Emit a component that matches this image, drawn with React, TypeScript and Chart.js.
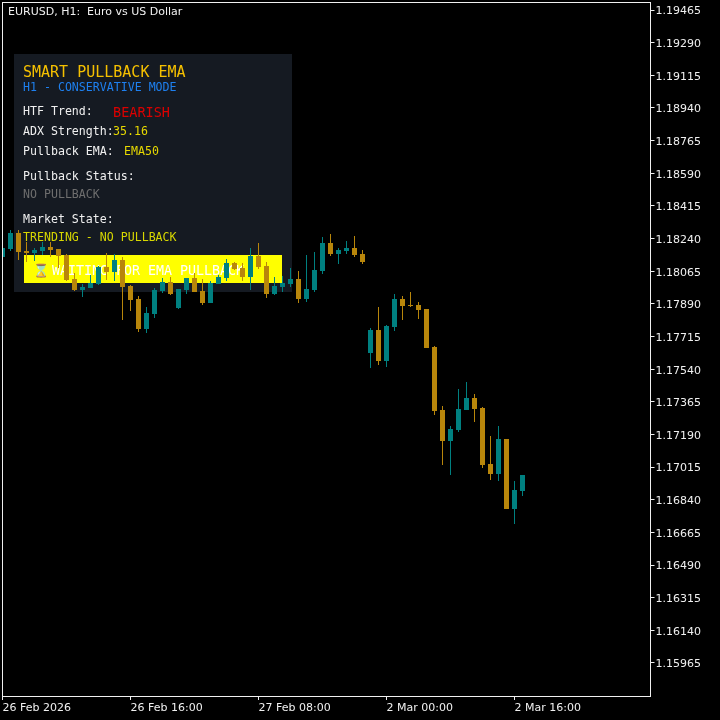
import React, { useEffect, useRef } from "react";
import { Chart, registerables } from "chart.js";

Chart.register(...registerables);

const opens = [1.18141,1.18184,1.18270,1.18173,1.18162,1.18173,1.18195,1.18184,1.18152,1.18023,1.17964,1.17975,1.17996,1.18087,1.18061,1.18125,1.17986,1.17916,1.17755,1.17836,1.17959,1.18007,1.17868,1.17964,1.18028,1.17959,1.17895,1.17996,1.18028,1.18109,1.18082,1.18034,1.18146,1.18093,1.17943,1.17980,1.17996,1.18023,1.17916,1.17964,1.18066,1.18216,1.18157,1.18173,1.18189,1.18157,1.17626,1.17750,1.17584,1.17766,1.17916,1.17884,1.17884,1.17862,1.17659,1.17321,1.17155,1.17214,1.17321,1.17385,1.17332,1.17032,1.16978,1.17165,1.16790,1.16887];
const closes = [1.18189,1.18270,1.18168,1.18162,1.18178,1.18195,1.18178,1.18146,1.18018,1.17964,1.17980,1.18002,1.18087,1.18061,1.18125,1.17980,1.17911,1.17755,1.17841,1.17964,1.18007,1.17943,1.17969,1.18028,1.17953,1.17895,1.18002,1.18034,1.18109,1.18077,1.18034,1.18146,1.18087,1.17943,1.17986,1.18002,1.18023,1.17916,1.17969,1.18071,1.18216,1.18157,1.18178,1.18189,1.18152,1.18114,1.17750,1.17584,1.17771,1.17916,1.17879,1.17879,1.17857,1.17653,1.17316,1.17155,1.17219,1.17326,1.17385,1.17326,1.17026,1.16978,1.17165,1.16790,1.16892,1.16973];
const highs = [1.18200,1.18286,1.18286,1.18221,1.18189,1.18221,1.18221,1.18184,1.18157,1.18055,1.17996,1.18045,1.18093,1.18162,1.18157,1.18141,1.17991,1.17932,1.17873,1.17975,1.18028,1.18034,1.17969,1.18028,1.18055,1.18023,1.18012,1.18045,1.18130,1.18114,1.18109,1.18189,1.18216,1.18114,1.18034,1.18039,1.18082,1.18066,1.18152,1.18168,1.18248,1.18264,1.18189,1.18227,1.18254,1.18178,1.17761,1.17873,1.17777,1.17943,1.17932,1.17953,1.17900,1.17862,1.17664,1.17342,1.17235,1.17433,1.17471,1.17407,1.17337,1.17182,1.17235,1.17165,1.16940,1.16973];
const lows = [1.18136,1.18173,1.18125,1.18114,1.18120,1.18152,1.18141,1.18082,1.18012,1.17959,1.17927,1.17975,1.17991,1.18018,1.18012,1.17803,1.17852,1.17739,1.17734,1.17814,1.17948,1.17937,1.17862,1.17943,1.17953,1.17884,1.17895,1.17996,1.18012,1.18071,1.18012,1.17964,1.18077,1.17921,1.17937,1.17953,1.17980,1.17895,1.17900,1.17953,1.18050,1.18146,1.18103,1.18157,1.18141,1.18103,1.17546,1.17562,1.17551,1.17744,1.17803,1.17873,1.17809,1.17653,1.17294,1.17026,1.16973,1.17203,1.17321,1.17257,1.17010,1.16946,1.16940,1.16790,1.16710,1.16860];

const priceTicks = [1.19465,1.19290,1.19115,1.18940,1.18765,1.18590,1.18415,1.18240,1.18065,1.17890,1.17715,1.17540,1.17365,1.17190,1.17015,1.16840,1.16665,1.16490,1.16315,1.16140,1.15965];
const timeTickIndex = [0, 16, 32, 48, 64];
const timeTickLabels = ["26 Feb 2026", "26 Feb 16:00", "27 Feb 08:00", "2 Mar 00:00", "2 Mar 16:00"];
const slotCount = 82;

const chartTitle = "EURUSD, H1:  Euro vs US Dollar";
const panelTitle = "SMART PULLBACK EMA";
const panelMode = "H1 - CONSERVATIVE MODE";

const ORANGE = "#b8860b";
const TEAL = "#008080";
const MONO = '"DejaVu Sans Mono"';

const categories = Array.from({ length: slotCount }, (_, i) => {
  const at = timeTickIndex.indexOf(i);
  return at >= 0 ? timeTickLabels[at] : "";
});
const barColors = opens.map((o, i) => (closes[i] >= o ? TEAL : ORANGE));

const chromePlugin = {
  id: "chrome",
  beforeDraw(chart: any) {
    const c = chart.ctx;
    c.save();
    c.fillStyle = "#000000";
    c.fillRect(0, 0, 720, 720);
    c.restore();
    chart.scales.y.getLabelItems().forEach((item: any) => {
      if (!item.shifted) {
        item.options.translation[1] += 1.5;
        item.shifted = true;
      }
    });
  },
  beforeDatasetsDraw(chart: any) {
    const c = chart.ctx;
    c.save();
    c.fillStyle = "#151a22";
    c.fillRect(14, 54, 278, 238);
    c.fillStyle = "#ffff00";
    c.fillRect(24, 255, 258, 28);
    c.textBaseline = "middle";
    c.textAlign = "left";
    const put = (s: string, x: number, y: number, px: number, col: string, fam = MONO) => {
      c.font = `${px}px ${fam}`;
      c.fillStyle = col;
      c.fillText(s, x, y);
    };
    put(panelTitle, 23, 73, 15, "#f5c000");
    put(panelMode, 23, 88, 11.6, "#1e80f0");
    put("HTF Trend:", 23, 112, 11.6, "#f0f0f0");
    put("BEARISH", 113, 113, 13.5, "#dc0000");
    put("ADX Strength:", 23, 132, 11.6, "#f0f0f0");
    put("35.16", 113, 132, 11.6, "#e6d800");
    put("Pullback EMA:", 23, 152, 11.6, "#f0f0f0");
    put("EMA50", 124, 152, 11.6, "#e6d800");
    put("Pullback Status:", 23, 177, 11.6, "#f0f0f0");
    put("NO PULLBACK", 23, 195, 11.6, "#6e6e6e");
    put("Market State:", 23, 220, 11.6, "#f0f0f0");
    put("TRENDING - NO PULLBACK", 23, 238, 11.6, "#d8d800");
    put("\u231B", 33, 272, 13, "#ffffff", '"DejaVu Sans"');
    put("WAITING FOR EMA PULLBACK", 52, 272, 13.3, "#ffffff");
    put(chartTitle, 8, 12, 11, "#f0f0f0", '"DejaVu Sans"');
    c.restore();
  },
  afterDraw(chart: any) {
    const c = chart.ctx;
    c.save();
    c.strokeStyle = "#f0f0f0";
    c.lineWidth = 1;
    c.strokeRect(2.5, 2.5, 648, 694);
    c.restore();
  },
};

const noPadding = (axis: any) => {
  axis.paddingTop = 0;
  axis.paddingBottom = 0;
  axis.paddingLeft = 0;
  axis.paddingRight = 0;
};

export default function App() {
  const ref = useRef<HTMLCanvasElement>(null);
  useEffect(() => {
    const chart = new Chart(ref.current as HTMLCanvasElement, {
      type: "bar",
      data: {
        labels: categories,
        datasets: [
          {
            label: "Wick",
            data: lows.map((l, i) => [l, highs[i]]) as any,
            backgroundColor: barColors,
            barThickness: 1,
            inflateAmount: 0,
            grouped: false,
            order: 2,
          } as any,
          {
            label: "Body",
            data: opens.map((o, i) => [o, closes[i]]) as any,
            backgroundColor: barColors,
            barThickness: 5,
            inflateAmount: 0,
            grouped: false,
            order: 1,
          } as any,
        ],
      },
      options: {
        responsive: false,
        animation: false,
        devicePixelRatio: 1,
        layout: { padding: { left: 2.5, top: 2, right: 0, bottom: 0 } },
        plugins: { legend: { display: false }, title: { display: false }, tooltip: { enabled: false } },
        scales: {
          x: {
            type: "category",
            offset: false,
            border: { display: false },
            grid: { offset: false, drawOnChartArea: false, drawTicks: true, tickLength: 4, tickColor: "#f0f0f0" },
            ticks: {
              autoSkip: false,
              maxRotation: 0,
              minRotation: 0,
              align: "start",
              padding: 2,
              color: "#f0f0f0",
              font: { family: '"DejaVu Sans"', size: 11 },
            },
            afterBuildTicks: (axis: any) => {
              axis.ticks = axis.ticks.filter((t: any) => categories[t.value] !== "");
            },
            afterFit: (axis: any) => {
              axis.height = 24;
              noPadding(axis);
            },
          },
          y: {
            type: "linear",
            position: "right",
            min: 1.15788,
            max: 1.19508,
            border: { display: false },
            grid: { drawOnChartArea: false, drawTicks: true, tickLength: 4, tickColor: "#f0f0f0" },
            ticks: {
              padding: 1,
              color: "#f0f0f0",
              font: { family: '"DejaVu Sans"', size: 11 },
              callback: (v: any) => Number(v).toFixed(5),
            },
            afterBuildTicks: (axis: any) => {
              axis.ticks = priceTicks.map((value) => ({ value }));
            },
            afterFit: (axis: any) => {
              axis.width = 69.5;
              noPadding(axis);
            },
          },
        },
      } as any,
      plugins: [chromePlugin],
    });
    return () => chart.destroy();
  }, []);
  return (
    <div style={{ position: "fixed", left: 0, top: 0, width: 720, height: 720, background: "#000" }}>
      <canvas ref={ref} width={720} height={720} style={{ display: "block" }} />
    </div>
  );
}
